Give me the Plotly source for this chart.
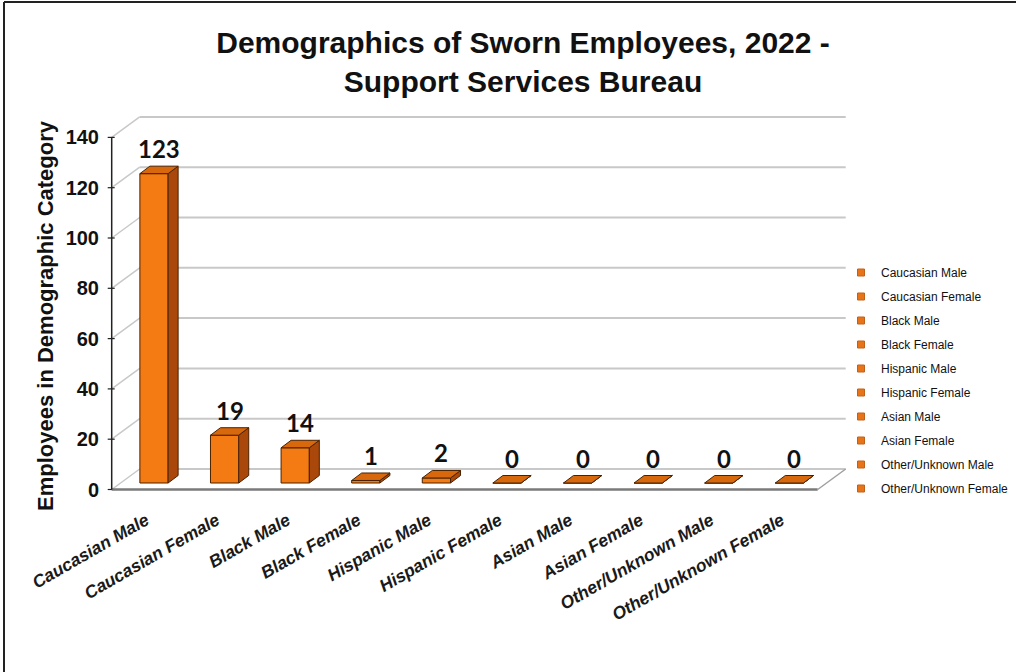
import plotly.graph_objects as go

# ---- data ----
categories = [
    "Caucasian Male", "Caucasian Female", "Black Male", "Black Female",
    "Hispanic Male", "Hispanic Female", "Asian Male", "Asian Female",
    "Other/Unknown Male", "Other/Unknown Female",
]
employees = [123, 19, 14, 1, 2, 0, 0, 0, 0, 0]
y_ticks = [0, 20, 40, 60, 80, 100, 120, 140]
y_max = 140

# ---- pixel geometry of the pseudo-3D frame ----
W, H = 1016, 672
PX_L, PX_R, PX_T, PX_B = 106, 852, 108, 496
CAT0_PX, CAT_STEP = 154.0, 70.6      # bar-plane position of the first category
ZERO_PX, PPU = 483.0, 2.515          # bar-plane zero line, pixels per unit

def ux(px):  # horizontal pixels -> category units
    return px / CAT_STEP

def uy(px):  # vertical pixels (upwards) -> value units
    return px / PPU

x_range = [(PX_L - CAT0_PX) / CAT_STEP, (PX_R - CAT0_PX) / CAT_STEP]
y_range = [(ZERO_PX - PX_B) / PPU, (ZERO_PX - PX_T) / PPU]

# depth offsets relative to the plane the bars stand in
fx, fy = ux(-7), uy(-6.5)     # front edge of the floor / value axis
bx, by = ux(21), uy(14)       # back wall
dx, dy = ux(10), uy(7.5)      # depth of each bar
half = 0.2                    # half bar width

FRONT = "#F47B14"
TOP = "#D8680C"
SIDE = "#A9480A"
EDGE = "#4a2200"

n = len(categories)
left, right = -0.5, n - 0.5

fig = go.Figure()

# bars: side face, top face, front face
for i, (cat, v) in enumerate(zip(categories, employees)):
    fig.add_trace(go.Scatter(
        x=[i + half, i + half + dx, i + half + dx, i + half, i + half],
        y=[0, dy, v + dy, v, 0],
        fill="toself", fillcolor=SIDE, mode="lines",
        line=dict(color=EDGE, width=1), hoverinfo="skip", showlegend=False,
    ))
    fig.add_trace(go.Scatter(
        x=[i - half, i + half, i + half + dx, i - half + dx, i - half],
        y=[v, v, v + dy, v + dy, v],
        fill="toself", fillcolor=TOP, mode="lines",
        line=dict(color=EDGE, width=1), hoverinfo="skip", showlegend=False,
    ))
    fig.add_trace(go.Bar(
        x=[i], y=[v], width=2 * half, name=cat,
        marker=dict(color=FRONT, line=dict(color=EDGE, width=1)),
        showlegend=False,
    ))
    # legend entry
    fig.add_trace(go.Scatter(
        x=[None], y=[None], mode="markers", name=cat, legendgroup=cat,
        marker=dict(symbol="square", size=7, color="#E8741A",
                    line=dict(color="#C0601A", width=1)),
    ))

# value labels above each bar
for i, v in enumerate(employees):
    fig.add_annotation(
        x=i + dx / 2, y=v + dy, text=str(v), showarrow=False,
        yanchor="bottom", yshift=1, xref="x", yref="y",
        font=dict(family="Liberation Sans Narrow, Lato, sans-serif",
                  size=24, color="#111111", weight="bold"),
    )

shapes = []
grid = dict(color="#c8c8c8", width=2)
for t in y_ticks:
    # back wall gridline
    shapes.append(dict(type="line", xref="x", yref="y", layer="below",
                       x0=left + bx, x1=right + bx, y0=t + by, y1=t + by,
                       line=grid))
    # side wall diagonal
    shapes.append(dict(type="line", xref="x", yref="y", layer="below",
                       x0=left + fx, x1=left + bx, y0=t + fy, y1=t + by,
                       line=dict(color="#c8c8c8", width=1.5)))
    # tick mark on the value axis
    shapes.append(dict(type="line", xref="x", yref="y",
                       x0=left + fx - ux(4), x1=left + fx + ux(3),
                       y0=t + fy, y1=t + fy,
                       line=dict(color="#222222", width=1.2)))
# floor edges
shapes.append(dict(type="line", xref="x", yref="y",
                   x0=left + fx, x1=right + fx, y0=fy, y1=fy,
                   line=dict(color="#7a7a7a", width=2.5)))
shapes.append(dict(type="line", xref="x", yref="y",
                   x0=right + fx, x1=right + bx, y0=fy, y1=by,
                   line=dict(color="#a0a0a0", width=1.5)))
# value axis line
shapes.append(dict(type="line", xref="x", yref="y",
                   x0=left + fx, x1=left + fx, y0=fy, y1=y_max + fy,
                   line=dict(color="#222222", width=1.5)))

# outer frame of the chart (left and top edges inside the page)
def xp(px):
    return (px - PX_L) / (PX_R - PX_L)

def yp(py):
    return (PX_B - py) / (PX_B - PX_T)

frame = dict(color="#222222", width=2)
shapes.append(dict(type="line", xref="paper", yref="paper",
                   x0=xp(4), x1=xp(4), y0=yp(2), y1=yp(H + 5), line=frame))
shapes.append(dict(type="line", xref="paper", yref="paper",
                   x0=xp(4), x1=xp(W + 5), y0=yp(2), y1=yp(2), line=frame))

fig.add_annotation(
    text="Employees in Demographic Category", textangle=-90,
    xref="paper", yref="paper", x=xp(45), y=yp(316), showarrow=False,
    xanchor="center", yanchor="middle",
    font=dict(family="Liberation Sans, Arial, sans-serif", size=22,
              color="#111111", weight="bold"),
)

fig.update_layout(
    width=W, height=H,
    margin=dict(l=PX_L, r=W - PX_R, t=PX_T, b=H - PX_B, autoexpand=False),
    paper_bgcolor="white", plot_bgcolor="white",
    barmode="overlay",
    shapes=shapes,
    title=dict(
        text="Demographics of Sworn Employees, 2022 -<br>Support Services Bureau",
        x=523 / W, xanchor="center", xref="container",
        y=1 - 53 / H, yanchor="top", yref="container",
        font=dict(family="Liberation Sans, Arial, sans-serif", size=30,
                  color="#111111", weight="bold"),
    ),
    xaxis=dict(
        range=x_range, tickvals=list(range(n)), ticktext=categories,
        tickangle=-30, showgrid=False, zeroline=False, showline=False,
        ticks="", fixedrange=True, ticklabelshift=-8, ticklabelstandoff=10,
        tickfont=dict(family="Liberation Sans, Arial, sans-serif", size=17.5,
                      color="#1a1a1a", weight="bold", style="italic"),
    ),
    yaxis=dict(range=y_range, visible=False, fixedrange=True),
    yaxis2=dict(
        range=[y_range[0] - fy, y_range[1] - fy], overlaying="y", side="left",
        tickvals=y_ticks, showgrid=False, zeroline=False, showline=False,
        ticks="", fixedrange=True, ticklabelstandoff=6,
        tickfont=dict(family="Liberation Sans, Arial, sans-serif", size=20,
                      color="#111111", weight="bold"),
    ),
    legend=dict(
        x=xp(841), y=yp(258), xanchor="left", yanchor="top",
        font=dict(family="Liberation Sans, Arial, sans-serif", size=12,
                  color="#111111"),
        tracegroupgap=5, bgcolor="rgba(0,0,0,0)",
    ),
)

# an invisible trace so the secondary value axis is drawn
fig.add_trace(go.Scatter(x=[None], y=[None], yaxis="y2", showlegend=False,
                         hoverinfo="skip"))

fig.write_html("out.html")
